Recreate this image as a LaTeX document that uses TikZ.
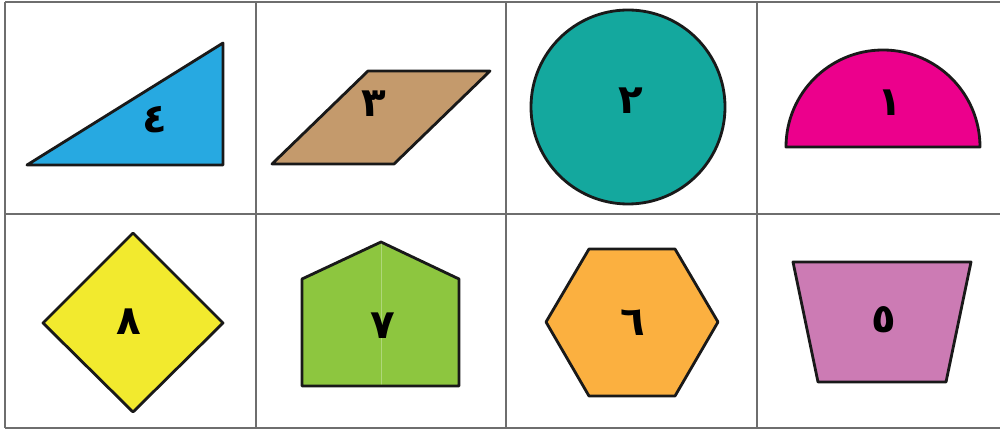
\documentclass[tikz,border=0pt]{standalone}
\usepackage{fontspec}
\newfontfamily\arabicfont[Script=Arabic]{DejaVu Sans}
\TeXXeTstate=1
\usepackage{tikz}
\usepackage[dvipsnames]{xcolor}
\usetikzlibrary{calc}

\definecolor{triblu}{RGB}{39,169,225}
\definecolor{parmarrone}{RGB}{196,154,108}
\definecolor{cerchioverde}{RGB}{20,168,158}
\definecolor{semimagenta}{RGB}{236,0,140}
\definecolor{rombogiallo}{RGB}{242,234,46}
\definecolor{casaverde}{RGB}{141,198,63}
\definecolor{esaarancio}{RGB}{251,176,64}
\definecolor{trapviola}{RGB}{204,123,180}
\definecolor{griglia}{RGB}{110,110,110}

\tikzset{
  figura/.style={draw=black!90, line width=1.6pt, line join=round},
  cifra/.style={font=\arabicfont\bfseries\fontsize{23}{27}\selectfont, inner sep=0pt}
}

\begin{document}
\begin{tikzpicture}[x=0.2mm,y=-0.2mm,line cap=round]
  \useasboundingbox (0,0) rectangle (1000,431);

  % --- Griglia della tabella ---
  \foreach \yy in {2,214,428}
    \draw[griglia, line width=1pt, line cap=butt] (5,\yy) -- (1000,\yy);
  \foreach \xx in {5,256,506,757}
    \draw[griglia, line width=1pt, line cap=butt] (\xx,2) -- (\xx,428);

  % --- Riga alta: triangolo, parallelogramma, cerchio, semicerchio ---
  \draw[figura, fill=triblu] (27,165) -- (223,43) -- (223,165) -- cycle;
  \node[cifra] (n4) at (155,120) {\beginR ٤\endR};

  \draw[figura, fill=parmarrone] (272,164) -- (368,71) -- (490,71) -- (394,164) -- cycle;
  \node[cifra] (n3) at (374,104) {\beginR ٣\endR};

  \draw[figura, fill=cerchioverde] (628,107) circle (97);
  \node[cifra] (n2) at (631,101) {\beginR ٢\endR};

  \draw[figura, fill=semimagenta] (786,147) arc (180:360:97) -- cycle;
  \node[cifra] (n1) at (890,103) {\beginR ١\endR};

  % --- Riga bassa: rombo, casetta, esagono, trapezio ---
  \draw[figura, fill=rombogiallo] (133,233) -- (223,323) -- (133,412) -- (43,323) -- cycle;
  \node[cifra] (n8) at (129,322) {\beginR ٨\endR};

  \draw[figura, fill=casaverde] (302,386) -- (302,279) -- (381,242) -- (459,279) -- (459,386) -- cycle;
  \draw[casaverde!70!white, line width=0.4pt] (381,244) -- (381,384);
  \node[cifra] (n7) at (383,326) {\beginR ٧\endR};

  \draw[figura, fill=esaarancio] (546,322) -- (589,249) -- (675,249) -- (718,322) -- (675,396) -- (589,396) -- cycle;
  \node[cifra] (n6) at (633,323) {\beginR ٦\endR};

  \draw[figura, fill=trapviola] (793,262) -- (971,262) -- (946,382) -- (818,382) -- cycle;
  \node[cifra] (n5) at (884,320) {\beginR ٥\endR};
\end{tikzpicture}
\end{document}
